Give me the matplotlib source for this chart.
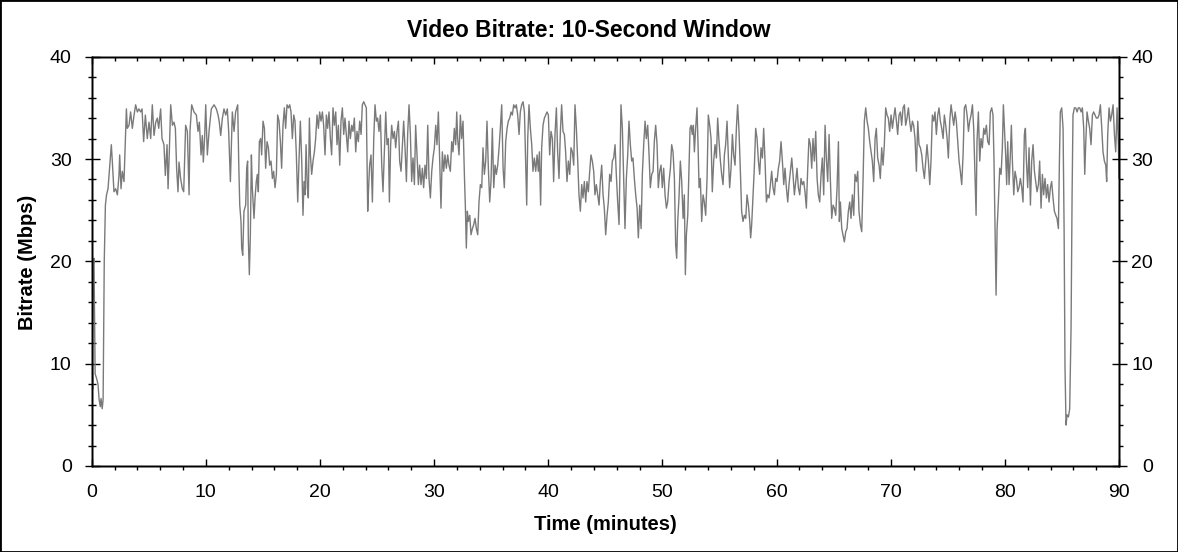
import matplotlib
matplotlib.use("Agg")
import matplotlib.pyplot as plt
from matplotlib.ticker import MultipleLocator
from matplotlib.patches import Rectangle

# ---------------- data (minutes, Mbps) ----------------
min_a = [0.0, 0.08, 0.12, 0.2, 0.3, 0.42, 0.55, 0.65, 0.75, 0.82,
         0.92, 1.0, 1.1, 1.2, 1.3, 1.43, 1.52, 1.72, 1.81, 1.95,
         2.10, 2.25, 2.39, 2.45, 2.57, 2.68, 2.83, 2.95, 3.04, 3.12,
         3.27, 3.41, 3.56, 3.71, 3.85, 4.00, 4.14, 4.29, 4.41, 4.55,
         4.70, 4.87, 5.02, 5.17, 5.31, 5.46, 5.61, 5.75, 5.87, 6.04,
         6.16, 6.33, 6.45, 6.60, 6.69, 6.80, 6.92, 7.07, 7.21, 7.33,
         7.44, 7.56, 7.65, 7.79, 7.94, 8.06, 8.23, 8.38, 8.53, 8.61,
         8.76, 8.96, 9.17, 9.31, 9.43, 9.58, 9.69, 9.78, 9.90, 9.99,
         10.13, 10.28, 10.48, 10.72, 10.92, 11.07, 11.18, 11.30, 11.45, 11.59,
         11.74, 11.88, 12.00, 12.15, 12.32, 12.47, 12.61, 12.79, 12.88, 12.97]
mbps_a = [12.0, 7.5, 19.5, 20.3, 9.0, 8.6, 8.0, 6.5, 5.8, 6.6,
          5.6, 6.5, 20.0, 25.5, 26.5, 27.1, 28.4, 31.4, 29.7, 26.8,
          27.1, 26.5, 28.4, 30.4, 27.1, 28.8, 27.8, 32.0, 34.9, 33.0,
          33.3, 34.6, 33.0, 34.3, 35.3, 34.6, 34.9, 34.6, 34.9, 31.7,
          34.3, 32.0, 33.6, 32.0, 35.3, 32.3, 33.6, 34.0, 33.0, 34.9,
          32.0, 31.4, 28.4, 31.4, 27.1, 30.7, 35.3, 33.3, 33.6, 33.0,
          29.1, 26.8, 29.7, 28.1, 27.1, 26.8, 33.3, 32.7, 26.5, 32.7,
          35.3, 34.6, 34.3, 32.7, 33.6, 30.4, 32.3, 29.7, 32.3, 35.3,
          30.4, 32.7, 34.9, 35.3, 34.9, 34.3, 33.6, 32.3, 34.0, 34.9,
          34.3, 34.9, 32.7, 27.8, 34.6, 32.7, 34.6, 35.3, 29.7, 25.5]

min_b = [13.08, 13.14, 13.23, 13.34, 13.49, 13.58, 13.66, 13.72, 13.81, 13.90,
         13.99, 14.07, 14.22, 14.31, 14.42, 14.51, 14.60, 14.69, 14.80, 14.89,
         15.01, 15.13, 15.24, 15.36, 15.48, 15.59, 15.71, 15.83, 15.94, 16.06,
         16.18, 16.29, 16.41, 16.53, 16.64, 16.76, 16.88, 16.99, 17.11, 17.23,
         17.35, 17.46, 17.58, 17.70, 17.81, 17.93, 18.05, 18.16, 18.28, 18.40,
         18.51, 18.60, 18.69, 18.78, 18.89, 18.98, 19.07, 19.16, 19.27, 19.39,
         19.51, 19.62, 19.74, 19.86, 19.97, 20.09, 20.21, 20.32, 20.44, 20.56,
         20.67, 20.79, 20.91, 21.02, 21.14, 21.26, 21.38, 21.49, 21.61, 21.73,
         21.84, 21.96, 22.08, 22.19, 22.31, 22.43, 22.54, 22.66, 22.78, 22.89,
         23.01, 23.13, 23.24, 23.36, 23.48, 23.60, 23.71, 23.83, 23.94, 24.06,
         24.18, 24.27, 24.35, 24.47, 24.59, 24.71, 24.82, 24.94, 25.05, 25.17,
         25.29, 25.41, 25.52, 25.64, 25.76, 25.87, 25.99, 26.08]
mbps_b = [23.9, 21.3, 20.6, 24.9, 25.5, 29.1, 29.8, 22.3, 18.7, 22.6,
          30.4, 27.2, 24.2, 26.2, 27.8, 28.5, 26.8, 31.7, 32.0, 30.4,
          33.7, 33.0, 29.1, 31.7, 31.1, 29.4, 29.8, 28.1, 28.8, 27.2,
          28.5, 34.3, 33.7, 31.7, 29.1, 33.3, 35.0, 33.0, 35.3, 35.0,
          35.3, 34.6, 32.0, 34.3, 33.7, 30.4, 25.8, 29.8, 33.7, 29.8,
          24.5, 27.8, 26.5, 31.4, 27.2, 26.2, 34.0, 30.4, 28.5, 29.8,
          30.7, 32.0, 34.3, 33.0, 34.6, 33.7, 34.6, 33.3, 30.4, 34.3,
          33.0, 34.6, 32.0, 30.4, 35.0, 33.3, 34.6, 31.4, 33.3, 29.4,
          33.7, 35.0, 32.4, 34.0, 32.4, 30.7, 33.7, 32.0, 33.3, 32.7,
          34.0, 30.7, 32.7, 31.7, 33.7, 32.4, 35.3, 35.6, 35.3, 35.0,
          24.9, 27.5, 29.4, 30.4, 25.8, 32.0, 35.3, 33.7, 34.0, 32.7,
          34.3, 29.4, 26.8, 30.7, 34.6, 31.4, 32.0, 25.8]

min_c = [26.19, 26.28, 26.40, 26.52, 26.63, 26.75, 26.87, 26.98, 27.10, 27.22,
         27.33, 27.45, 27.57, 27.68, 27.80, 27.92, 28.03, 28.15, 28.27, 28.38,
         28.50, 28.62, 28.73, 28.85, 28.97, 29.08, 29.20, 29.32, 29.44, 29.55,
         29.67, 29.79, 29.90, 30.02, 30.14, 30.25, 30.37, 30.49, 30.60, 30.72,
         30.84, 30.95, 31.07, 31.19, 31.30, 31.42, 31.54, 31.65, 31.77, 31.89,
         31.98, 32.06, 32.18, 32.30, 32.41, 32.53, 32.65, 32.74, 32.82, 32.91,
         33.00, 33.12, 33.23, 33.35, 33.47, 33.58, 33.70, 33.82, 33.93, 34.05,
         34.17, 34.28, 34.40, 34.52, 34.63, 34.75, 34.87, 34.98, 35.10, 35.22,
         35.34, 35.45, 35.57, 35.69, 35.80, 35.92, 36.04, 36.15, 36.27, 36.39,
         36.50, 36.62, 36.74, 36.85, 36.97, 37.09, 37.20, 37.32, 37.44, 37.55,
         37.67, 37.79, 37.91, 38.02, 38.11, 38.20, 38.31, 38.43, 38.55, 38.66,
         38.78, 38.90, 39.02, 39.13, 39.22]
mbps_c = [31.4, 33.3, 32.0, 32.7, 31.1, 32.7, 33.7, 29.8, 28.8, 31.4,
          33.7, 31.1, 27.8, 32.4, 35.3, 32.4, 27.8, 30.1, 27.5, 33.3,
          30.4, 27.5, 29.4, 27.5, 29.1, 27.2, 29.4, 28.1, 33.3, 28.1,
          26.2, 28.8, 30.1, 31.1, 33.3, 31.4, 34.6, 29.8, 25.2, 30.7,
          28.8, 30.4, 29.1, 30.4, 29.4, 28.8, 31.7, 30.7, 33.0, 31.4,
          34.6, 32.0, 30.4, 34.3, 32.0, 33.7, 28.5, 25.2, 21.3, 24.9,
          23.9, 24.5, 22.6, 23.2, 23.6, 24.2, 23.2, 22.6, 25.8, 27.5,
          27.2, 31.1, 28.5, 29.8, 33.7, 29.1, 25.8, 27.8, 33.0, 27.2,
          29.4, 28.5, 29.4, 31.1, 33.0, 35.3, 29.1, 27.2, 31.7, 33.0,
          33.7, 34.0, 34.6, 34.3, 35.3, 35.0, 35.3, 34.3, 32.4, 34.6,
          35.3, 35.6, 34.6, 29.8, 25.5, 32.0, 35.3, 33.0, 31.4, 28.8,
          30.1, 28.8, 30.4, 28.8, 30.7]

min_d = [39.33, 39.42, 39.54, 39.66, 39.77, 39.89, 40.01, 40.12, 40.24, 40.36,
         40.47, 40.59, 40.71, 40.82, 40.94, 41.06, 41.17, 41.29, 41.41, 41.52,
         41.64, 41.76, 41.88, 41.99, 42.11, 42.23, 42.34, 42.46, 42.58, 42.69,
         42.81, 42.93, 43.04, 43.16, 43.28, 43.39, 43.51, 43.63, 43.74, 43.86,
         43.98, 44.09, 44.21, 44.33, 44.45, 44.56, 44.68, 44.80, 44.91, 45.03,
         45.15, 45.26, 45.38, 45.50, 45.61, 45.73, 45.85, 45.96, 46.08, 46.20,
         46.29, 46.37, 46.49, 46.61, 46.72, 46.84, 46.96, 47.07, 47.19, 47.31,
         47.42, 47.54, 47.66, 47.78, 47.89, 48.01, 48.13, 48.24, 48.36, 48.48,
         48.59, 48.71, 48.83, 48.94, 49.06, 49.18, 49.29, 49.41, 49.53, 49.64,
         49.76, 49.88, 49.99, 50.11, 50.23, 50.35, 50.46, 50.58, 50.70, 50.81,
         50.93, 51.05, 51.16, 51.25, 51.34, 51.45, 51.57, 51.69, 51.81, 51.92,
         52.01, 52.10, 52.22, 52.33]
mbps_d = [25.5, 31.1, 33.3, 34.0, 34.3, 34.6, 34.3, 30.4, 32.7, 32.0,
          27.8, 32.4, 35.0, 30.7, 28.1, 32.7, 35.3, 32.7, 32.4, 30.7,
          27.8, 29.8, 28.5, 31.1, 30.7, 29.4, 35.3, 33.0, 29.8, 26.5,
          24.9, 27.5, 26.2, 27.8, 25.8, 27.8, 26.8, 28.8, 30.4, 29.8,
          28.8, 26.5, 27.5, 26.5, 25.5, 27.8, 29.4, 26.5, 25.2, 22.6,
          24.5, 25.8, 28.5, 27.8, 29.8, 30.1, 31.4, 28.5, 25.8, 23.6,
          29.8, 35.3, 33.0, 27.8, 23.2, 28.1, 30.4, 33.7, 31.4, 29.8,
          30.1, 28.1, 26.5, 25.2, 22.3, 25.5, 23.2, 28.5, 31.4, 33.7,
          32.0, 33.3, 30.4, 27.2, 28.5, 28.8, 31.7, 33.3, 31.4, 27.2,
          28.8, 29.4, 27.2, 29.1, 26.5, 25.2, 25.8, 27.8, 29.1, 31.4,
          30.7, 28.1, 21.6, 20.3, 23.9, 26.2, 29.8, 27.8, 24.2, 26.5,
          18.7, 22.6, 24.5, 29.4]

min_e = [52.42, 52.51, 52.62, 52.71, 52.80, 52.91, 53.03, 53.12, 53.21, 53.32,
         53.44, 53.56, 53.67, 53.79, 53.91, 54.02, 54.14, 54.26, 54.37, 54.49,
         54.61, 54.73, 54.84, 54.96, 55.08, 55.19, 55.31, 55.43, 55.54, 55.66,
         55.78, 55.89, 56.01, 56.13, 56.24, 56.36, 56.48, 56.59, 56.71, 56.83,
         56.94, 57.06, 57.18, 57.30, 57.41, 57.53, 57.65, 57.73, 57.82, 57.94,
         58.05, 58.17, 58.29, 58.41, 58.52, 58.64, 58.76, 58.87, 58.99, 59.11,
         59.22, 59.34, 59.46, 59.57, 59.69, 59.81, 59.92, 60.04, 60.16, 60.27,
         60.39, 60.51, 60.63, 60.74, 60.86, 60.98, 61.09, 61.21, 61.33, 61.44,
         61.56, 61.68, 61.79, 61.91, 62.03, 62.14, 62.26, 62.38, 62.49, 62.61,
         62.73, 62.84, 62.96, 63.08, 63.19, 63.31, 63.43, 63.55, 63.66, 63.78,
         63.90, 64.01, 64.13, 64.25, 64.36, 64.48, 64.60, 64.71, 64.83, 64.95,
         65.06, 65.18, 65.30, 65.42, 65.50]
mbps_e = [33.0, 33.3, 32.4, 33.3, 30.7, 33.0, 35.0, 31.4, 27.2, 28.1,
          23.9, 26.5, 25.8, 24.5, 28.1, 34.3, 33.3, 32.0, 26.8, 29.8,
          31.4, 30.1, 34.0, 31.7, 29.8, 28.5, 27.5, 30.4, 31.4, 33.7,
          30.1, 27.2, 29.1, 32.4, 30.4, 29.4, 33.0, 35.3, 32.7, 28.8,
          24.9, 23.9, 24.5, 24.2, 26.5, 25.5, 23.9, 22.3, 23.6, 26.5,
          29.1, 33.0, 32.0, 29.8, 28.5, 31.1, 30.1, 33.0, 29.8, 25.8,
          26.5, 26.2, 27.5, 28.8, 27.2, 26.5, 28.1, 27.8, 29.1, 29.8,
          31.7, 29.8, 27.5, 29.1, 27.2, 25.8, 27.5, 28.8, 30.1, 28.5,
          26.5, 27.8, 29.1, 27.2, 26.5, 28.1, 27.5, 27.8, 26.8, 25.2,
          29.1, 32.0, 31.4, 29.1, 32.0, 29.8, 32.7, 28.1, 26.5, 25.8,
          28.5, 30.1, 26.5, 33.3, 30.1, 27.8, 32.4, 28.1, 24.2, 25.5,
          25.2, 24.5, 27.2, 31.7, 23.9]

min_f = [65.59, 65.71, 65.82, 65.94, 66.06, 66.17, 66.29, 66.41, 66.52, 66.64,
         66.76, 66.87, 66.99, 67.11, 67.22, 67.34, 67.46, 67.58, 67.69, 67.81,
         67.93, 68.04, 68.16, 68.28, 68.39, 68.51, 68.63, 68.74, 68.86, 68.98,
         69.09, 69.21, 69.33, 69.44, 69.56, 69.68, 69.79, 69.91, 70.03, 70.15,
         70.26, 70.38, 70.50, 70.61, 70.73, 70.85, 70.96, 71.08, 71.20, 71.31,
         71.43, 71.55, 71.66, 71.78, 71.90, 72.01, 72.13, 72.25, 72.37, 72.48,
         72.60, 72.72, 72.83, 72.95, 73.07, 73.18, 73.30, 73.42, 73.53, 73.65,
         73.77, 73.88, 74.00, 74.12, 74.23, 74.35, 74.47, 74.59, 74.70, 74.82,
         74.94, 75.05, 75.17, 75.29, 75.40, 75.52, 75.64, 75.75, 75.87, 75.99,
         76.10, 76.22, 76.34, 76.45, 76.57, 76.69, 76.81, 76.92, 77.04, 77.16,
         77.27, 77.39, 77.48, 77.56, 77.68, 77.80, 77.91, 78.03, 78.15, 78.26,
         78.38, 78.50, 78.62]
mbps_f = [25.8, 23.2, 22.6, 21.9, 22.9, 23.2, 24.9, 25.8, 24.2, 26.5,
          24.5, 28.5, 27.8, 28.8, 24.9, 23.6, 22.9, 28.1, 33.7, 35.0,
          33.7, 33.0, 31.7, 30.7, 29.8, 27.8, 32.0, 33.0, 30.1, 29.4,
          28.1, 31.1, 29.4, 31.4, 35.0, 34.3, 34.0, 32.7, 34.3, 33.0,
          34.0, 35.0, 33.7, 32.4, 34.3, 34.6, 33.3, 35.0, 35.3, 33.3,
          34.0, 35.0, 33.7, 32.7, 33.7, 33.3, 32.0, 28.8, 33.7, 31.4,
          31.1, 30.4, 29.1, 28.1, 29.8, 31.4, 29.8, 27.5, 29.8, 34.3,
          33.7, 34.6, 32.4, 34.3, 35.0, 33.7, 33.0, 32.0, 34.3, 33.3,
          32.0, 30.1, 33.7, 35.3, 34.3, 33.3, 34.6, 33.7, 31.7, 29.8,
          28.8, 27.5, 30.4, 35.0, 35.3, 34.3, 32.7, 33.7, 34.3, 35.3,
          33.0, 28.1, 24.5, 31.7, 34.6, 29.8, 32.0, 31.1, 33.0, 32.4,
          33.3, 31.7, 31.4]

min_g = [78.73, 78.85, 78.96, 79.05, 79.14, 79.23, 79.32, 79.43, 79.55, 79.67,
         79.78, 79.87, 79.96, 80.07, 80.16, 80.25, 80.37, 80.48, 80.57, 80.66,
         80.78, 80.89, 81.01, 81.13, 81.24, 81.36, 81.48, 81.59, 81.71, 81.80,
         81.89, 82.00, 82.12, 82.24, 82.35, 82.47, 82.59, 82.70, 82.82, 82.94,
         83.05, 83.17, 83.29, 83.40, 83.52, 83.64, 83.75, 83.87, 83.99, 84.10,
         84.22, 84.34, 84.46, 84.57, 84.69, 84.78, 84.86, 84.98, 85.10, 85.19,
         85.27, 85.36, 85.45, 85.57, 85.68, 85.80, 85.89, 85.97, 86.09, 86.21,
         86.33, 86.44, 86.56, 86.68, 86.79, 86.91, 87.00, 87.08, 87.20, 87.32,
         87.43, 87.55, 87.67, 87.78, 87.90, 88.02, 88.14, 88.25, 88.37, 88.49,
         88.60, 88.72, 88.84, 88.92, 89.01, 89.13, 89.25, 89.36, 89.48, 89.60,
         89.71, 89.83, 89.95, 90.0]
mbps_g = [34.6, 35.0, 34.3, 29.8, 23.2, 16.7, 23.2, 25.8, 29.1, 28.5,
          31.1, 35.3, 33.0, 30.4, 27.5, 31.7, 27.5, 30.4, 33.3, 29.8,
          26.5, 28.8, 28.1, 26.8, 27.2, 28.1, 27.2, 25.8, 32.4, 33.0,
          29.8, 27.2, 31.1, 25.5, 29.8, 31.4, 28.8, 27.8, 26.8, 27.5,
          29.8, 25.2, 28.5, 26.5, 28.1, 26.2, 27.5, 25.8, 27.2, 27.8,
          26.2, 24.9, 24.5, 24.2, 23.2, 29.8, 34.6, 35.0, 33.0, 23.2,
          9.6, 4.0, 5.0, 4.8, 5.6, 13.5, 26.5, 34.3, 35.0, 35.0,
          34.6, 35.0, 35.0, 34.6, 35.0, 33.0, 28.5, 31.4, 34.6, 33.7,
          33.0, 31.4, 34.3, 34.6, 34.3, 34.0, 34.0, 34.3, 35.3, 33.0,
          30.7, 29.8, 29.4, 27.8, 32.4, 35.0, 33.7, 34.3, 35.3, 32.4,
          30.7, 35.0, 31.4, 28.1]

x_ticks = [0, 10, 20, 30, 40, 50, 60, 70, 80, 90]
y_ticks = [0, 10, 20, 30, 40]

title_text = "Video Bitrate: 10-Second Window"
x_label = "Time (minutes)"
y_label = "Bitrate (Mbps)"

minutes = min_a + min_b + min_c + min_d + min_e + min_f + min_g
bitrate = mbps_a + mbps_b + mbps_c + mbps_d + mbps_e + mbps_f + mbps_g

# ---------------- figure ----------------
plt.rcParams['font.family'] = ['Liberation Sans', 'DejaVu Sans']
W, H = 1178, 552
PX = 72.0 / 100.0  # points per pixel

fig = plt.figure(figsize=(W / 100, H / 100), dpi=100)
fig.patch.set_facecolor('white')

left_px, right_px, top_px, bottom_px = 91.7, 1119.0, 56.7, 466.0
ax = fig.add_axes([left_px / W, 1 - bottom_px / H,
                   (right_px - left_px) / W, (bottom_px - top_px) / H])

ax.plot(minutes, bitrate, color='#7a7a7a', lw=1.0, solid_joinstyle='round')
ax.set_xlim(0, 90)
ax.set_ylim(0, 40)

for s in ax.spines.values():
    s.set_linewidth(1.0 * PX * 1.4)
    s.set_color('black')

ax.set_xticks(x_ticks)
ax.set_yticks(y_ticks)
ax.xaxis.set_minor_locator(MultipleLocator(2))
ax.yaxis.set_minor_locator(MultipleLocator(2))
tw = 1.0
ax.tick_params(axis='x', which='major', direction='in', length=7 * PX, width=tw,
               bottom=True, top=False, labelsize=14, pad=13)
ax.tick_params(axis='x', which='minor', direction='out', length=4 * PX, width=tw,
               bottom=True, top=False)
ax.tick_params(axis='y', which='major', direction='inout', length=15 * PX, width=tw,
               left=True, right=False, labelsize=14, pad=9)
ax.tick_params(axis='y', which='minor', direction='inout', length=8 * PX, width=tw,
               left=True, right=False)

# top ticks
ax_top = ax.twiny()
ax_top.set_xlim(0, 90)
ax_top.set_xticks(x_ticks)
ax_top.xaxis.set_minor_locator(MultipleLocator(2))
ax_top.tick_params(axis='x', which='major', direction='in', length=7 * PX, width=tw,
                   top=True, bottom=False, labeltop=False, labelbottom=False)
ax_top.tick_params(axis='x', which='minor', direction='in', length=4 * PX, width=tw,
                   top=True, bottom=False)

# right ticks and labels
ax_r = ax.twinx()
ax_r.set_ylim(0, 40)
ax_r.set_yticks(y_ticks)
ax_r.yaxis.set_minor_locator(MultipleLocator(2))
ax_r.tick_params(axis='y', which='major', direction='inout', length=15 * PX, width=tw,
                 right=True, left=False, labelright=True, labelleft=False,
                 labelsize=14, pad=19)
ax_r.tick_params(axis='y', which='minor', direction='out', length=4 * PX, width=tw,
                 right=True, left=False)
for lbl in ax_r.get_yticklabels():
    lbl.set_horizontalalignment('right')

for a in (ax_top, ax_r):
    for s in a.spines.values():
        s.set_linewidth(1.0 * PX * 1.4)

# texts
fig.text(0.5, 1 - 36.7 / H, title_text, ha='center', va='baseline',
         fontsize=16.5, fontweight='bold')
fig.text((left_px + right_px) / 2 / W, 1 - 529.5 / H, x_label, ha='center',
         va='baseline', fontsize=14.5, fontweight='bold')
fig.text(27.5 / W, 1 - 262 / H, y_label, ha='center', va='center',
         rotation=90, fontsize=14.5, fontweight='bold')

# outer border
fig.patches.append(Rectangle((0, 0), 1, 1, transform=fig.transFigure,
                             fill=False, edgecolor='black', lw=2.0,
                             figure=fig))

fig.savefig('out.png', dpi=100)
